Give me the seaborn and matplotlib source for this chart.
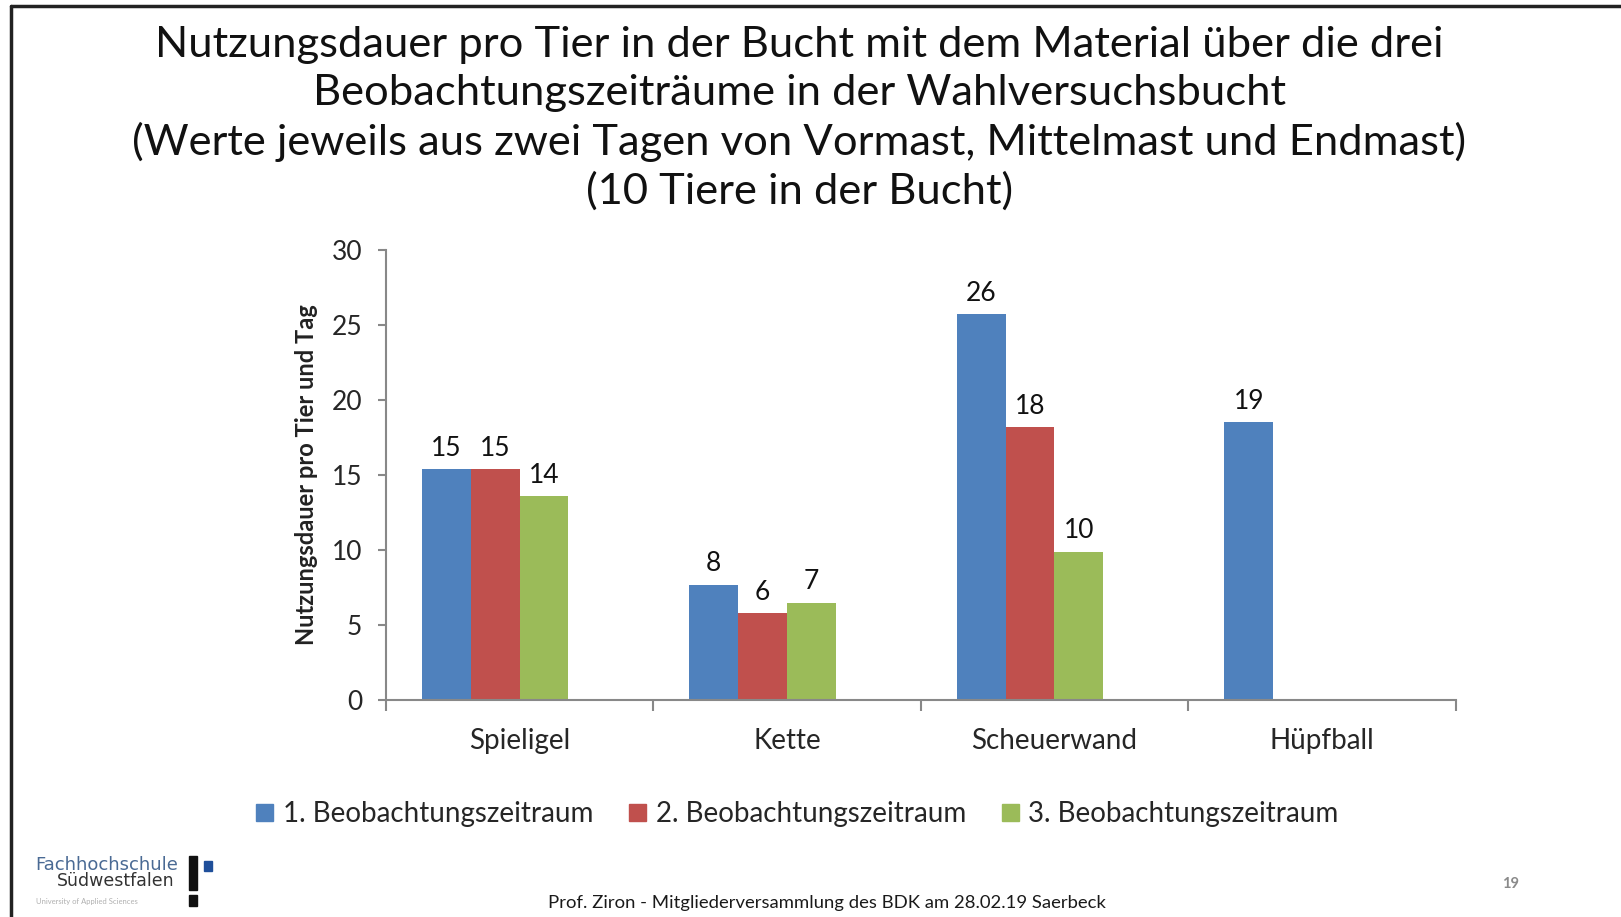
import matplotlib
matplotlib.use("Agg")
import matplotlib.pyplot as plt
import matplotlib.patches as mpatches
from matplotlib.lines import Line2D
import pandas as pd
import seaborn as sns

# Chart data
materials = ["Spieligel", "Kette", "Scheuerwand", "Hüpfball"]
periods = ["1. Beobachtungszeitraum", "2. Beobachtungszeitraum", "3. Beobachtungszeitraum"]
period1 = [15.4, 7.7, 25.7, 18.5]
period2 = [15.4, 5.8, 18.2, None]
period3 = [13.6, 6.5, 9.9, None]
colors = ["#4F81BD", "#C0504D", "#9BBB59"]

title = ("Nutzungsdauer pro Tier in der Bucht mit dem Material über die drei\n"
         "Beobachtungszeiträume in der Wahlversuchsbucht\n"
         "(Werte jeweils aus zwei Tagen von Vormast, Mittelmast und Endmast)\n"
         "(10 Tiere in der Bucht)")
ylabel = "Nutzungsdauer pro Tier und Tag"
footer = "Prof. Ziron - Mitgliederversammlung des BDK am 28.02.19 Saerbeck"

# Long table, missing combinations left out
rows = []
for name, vals in zip(periods, [period1, period2, period3]):
    for mat, v in zip(materials, vals):
        if v is not None:
            rows.append({"Material": mat, "Zeitraum": name, "Wert": v})
df = pd.DataFrame(rows)

sns.set_style("white")
plt.rcParams["font.family"] = ["Lato", "DejaVu Sans"]

fig = plt.figure(figsize=(16.21, 9.17), dpi=100)
ax = fig.add_axes([0.238, 0.2361, 0.660, 0.4918])

# Excel leaves a fourth (empty) series slot in each group
empty = "leer"
palette = dict(zip(periods, colors))
palette[empty] = "white"
sns.barplot(data=df, x="Material", y="Wert", hue="Zeitraum",
            order=materials, hue_order=periods + [empty],
            palette=palette, width=0.73, saturation=1, ax=ax,
            errorbar=None, legend=False, linewidth=0)

for cont in ax.containers:
    ax.bar_label(cont, fmt=lambda v: f"{int(v + 0.5)}", padding=6,
                 fontsize=19, color="#111111")

ax.set_xlim(-0.5, 3.5)
ax.set_ylim(0, 30)
ax.set_yticks(range(0, 31, 5))
ax.set_xlabel("")
ax.set_ylabel(ylabel, fontsize=17, fontweight="bold", color="#222222", labelpad=10)
for s in ["top", "right"]:
    ax.spines[s].set_visible(False)
for s in ["left", "bottom"]:
    ax.spines[s].set_color("#888888")
    ax.spines[s].set_linewidth(1.5)
ax.tick_params(axis="y", which="major", direction="out", length=6, width=1.5,
               color="#888888", labelsize=19, pad=11, left=True)
ax.tick_params(axis="x", which="major", length=0, labelsize=20, pad=20)
ax.set_xticks([i + 0.5 for i in range(-1, 4)], minor=True)
ax.tick_params(axis="x", which="minor", direction="out", length=8, width=1.5,
               color="#888888", bottom=True)

handles = [mpatches.Patch(color=c, label=p) for p, c in zip(periods, colors)]
fig.legend(handles=handles, loc="center", bbox_to_anchor=(0.492, 0.112),
           ncol=3, frameon=False, fontsize=20, handlelength=0.6,
           handleheight=0.6, handletextpad=0.35, columnspacing=1.3)

fig.text(0.493, 0.8705, title, ha="center", va="center", fontsize=31.3,
         linespacing=1.3, color="#111111")
fig.text(0.51, 0.015, footer, ha="center", va="center", fontsize=13.3,
         color="#1a1a1a")
fig.text(0.932, 0.036, "19", ha="center", va="center", fontsize=10.5,
         color="#8a8a8a", fontweight="bold")

# logo
fig.text(0.022, 0.057, "Fachhochschule", fontsize=13, color="#4a6a94",
         ha="left", va="center", family="DejaVu Sans")
fig.text(0.035, 0.039, "Südwestfalen", fontsize=12.5, color="#333333",
         ha="left", va="center", family="DejaVu Sans")
fig.text(0.022, 0.017, "University of Applied Sciences", fontsize=5.5,
         color="#b0b0b0", ha="left", va="center")
fig.add_artist(mpatches.Rectangle((0.1165, 0.029), 0.005, 0.038,
                                  transform=fig.transFigure, color="#111111"))
fig.add_artist(mpatches.Rectangle((0.1165, 0.012), 0.005, 0.012,
                                  transform=fig.transFigure, color="#111111"))
fig.add_artist(mpatches.Rectangle((0.1260, 0.050), 0.005, 0.011,
                                  transform=fig.transFigure, color="#1f4f9a"))

# slide frame
fig.add_artist(Line2D([0.0068, 1.0], [0.9935, 0.9935], transform=fig.transFigure,
                      color="#222222", linewidth=2.5))
fig.add_artist(Line2D([0.0068, 0.0068], [0.0, 0.9935], transform=fig.transFigure,
                      color="#222222", linewidth=2.5))

fig.savefig("out.png", dpi=100, facecolor="white")
plt.close(fig)
